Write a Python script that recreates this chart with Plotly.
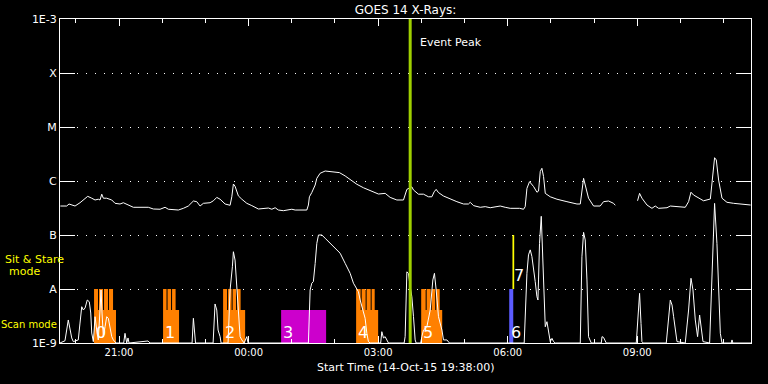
import pandas as pd
import plotly.graph_objects as go

START = pd.Timestamp("2015-10-14 19:38:00")
SPAN_MIN = 960  # 16 hours shown

# ---- GOES long channel (1-8 A): minutes after start, flux (W/m^2); None = data gap
long_min = [0.5, 9.3, 12.5, 20.9, 27.8, 34.8, 38.5, 44.1, 48.7, 53.2,
            55.6, 58.0, 60.2, 64.9, 71.9, 76.5, 83.4, 88.0, 94.9, 101.9,
            122.7, 129.7, 139.0, 146.0, 150.5, 164.4, 171.4, 178.3, 185.3, 190.0,
            194.6, 199.2, 208.5, 213.1, 217.8, 222.4, 229.4, 236.3, 238.7, 240.9,
            243.2, 247.8, 252.6, 259.5, 266.5, 275.6, 289.5, 294.3, 298.9, 303.4,
            310.4, 322.1, 326.7, 342.9, 345.1, 346.5, 349.8, 354.5, 356.8, 361.4,
            368.4, 377.7, 388.2, 396.2, 405.5, 412.4, 421.6, 430.9, 442.4, 451.8,
            458.7, 468.0, 477.2, 481.9, 485.5, 488.8, 491.1, 498.0, 505.0, 511.9,
            516.6, 519.8, 522.6, 525.8, 532.8, 542.1, 551.4, 560.6, 567.5, 569.9,
            574.5, 583.8, 590.8, 597.7, 604.6, 611.6, 618.5, 625.5, 638.4, 644.0,
            646.3, 648.7, 652.3, 657.9, 662.6, 664.8, 667.2, 669.5, 671.8, 674.2,
            681.1, 690.4, 704.3, 718.2, 722.8, 725.1, 727.4, 729.7, 734.3, 741.3,
            750.5, 755.1, 762.1, 769.0, 771.4, 786.0, 802.4, 805.2, 808.5, 815.5,
            822.4, 827.0, 831.6, 843.3, 847.9, 854.9, 868.7, 873.3, 876.6, 880.2,
            887.2, 894.1, 903.5, 906.6, 909.4, 911.8, 915.0, 919.7, 926.6, 935.8,
            959.5]
long_flux = [3.44e-7, 3.44e-7, 3.75e-7, 3.44e-7, 3.96e-7, 4.8e-7, 5.2e-7, 4.8e-7, 4.45e-7, 4.6e-7,
             4.45e-7, 5.7e-7, 4.8e-7, 4.8e-7, 4.45e-7, 3.86e-7, 3.75e-7, 3.96e-7, 3.59e-7, 3.26e-7,
             3.26e-7, 3.03e-7, 3.0e-7, 3.26e-7, 3.0e-7, 2.9e-7, 3.12e-7, 3.44e-7, 4.26e-7, 4.14e-7,
             3.44e-7, 3.86e-7, 3.96e-7, 4.3e-7, 4.97e-7, 4.6e-7, 3.75e-7, 3.55e-7, 5.1e-7, 8.8e-7,
             8.0e-7, 5.3e-7, 4.6e-7, 3.86e-7, 3.5e-7, 3.03e-7, 3.16e-7, 3.0e-7, 3.2e-7, 2.9e-7,
             2.82e-7, 3.0e-7, 2.9e-7, 2.9e-7, 3.59e-7, 5.1e-7, 6.1e-7, 8.43e-7, 1.12e-6, 1.39e-6,
             1.53e-6, 1.5e-6, 1.43e-6, 1.24e-6, 1.01e-6, 8.7e-7, 7.5e-7, 6.6e-7, 5.74e-7, 5.9e-7,
             4.97e-7, 4.45e-7, 4.45e-7, 7.0e-7, 7.3e-7, 7.8e-7, 6.81e-7, 5.7e-7, 5.7e-7, 5.1e-7,
             5.1e-7, 6.3e-7, 7.0e-7, 6.1e-7, 5.27e-7, 4.6e-7, 4.14e-7, 3.75e-7, 3.75e-7, 4.03e-7,
             3.5e-7, 3.26e-7, 3.35e-7, 3.2e-7, 3.35e-7, 3.44e-7, 3.26e-7, 3.12e-7, 3.12e-7, 3.0e-7,
             3.35e-7, 7.3e-7, 9.7e-7, 7.9e-7, 6.2e-7, 6.5e-7, 1.5e-6, 1.72e-6, 1.21e-6, 5.9e-7,
             5.1e-7, 4.6e-7, 4.14e-7, 3.75e-7, 3.75e-7, 7.3e-7, 1.12e-6, 8.43e-7, 4.8e-7, 3.44e-7,
             3.44e-7, 4.14e-7, 4.26e-7, 3.86e-7, 3.55e-7, None, 4.3e-7, 5.9e-7, 4.8e-7, 3.59e-7,
             3.12e-7, 3.44e-7, 3.12e-7, 3.2e-7, 3.44e-7, 3.35e-7, 3.26e-7, 4.14e-7, 6.2e-7, 5.5e-7,
             4.8e-7, 4.3e-7, 4.64e-7, 1.04e-6, 2.7e-6, 2.45e-6, 1.04e-6, 4.8e-7, 4.03e-7, 3.86e-7,
             3.59e-7]

# ---- GOES short channel (0.5-4 A)
short_min = [0.0, 4.2, 6.9, 11.5, 13.9, 16.3, 18.5, 25.4, 27.8, 30.2,
             32.4, 34.8, 37.9, 40.7, 42.7, 44.1, 46.3, 48.7, 51.0, 53.2,
             55.6, 57.0, 58.4, 60.2, 62.6, 64.9, 67.1, 69.5, 71.9, 74.1,
             77.8, 88.5, 90.3, 92.7, 94.5, 95.9, 122.3, 125.1, 183.5, 185.3,
             186.9, 188.3, 212.7, 215.4, 217.8, 219.6, 222.4, 223.8, 233.5, 236.3,
             239.5, 240.9, 243.2, 245.6, 247.8, 250.2, 252.6, 255.8, 259.5, 261.3,
             345.1, 346.5, 347.5, 349.8, 352.0, 354.5, 356.8, 359.1, 363.8, 368.4,
             375.3, 384.6, 389.2, 396.2, 403.1, 407.7, 411.4, 414.6, 417.0, 419.3,
             423.9, 426.3, 428.5, 430.9, 445.5, 447.1, 449.4, 451.7, 454.1, 456.3,
             478.1, 479.5, 481.9, 484.1, 486.5, 488.8, 491.1, 493.4, 494.8, 501.1,
             502.7, 505.0, 509.7, 514.3, 518.0, 520.2, 522.6, 525.8, 530.6, 532.8,
             537.5, 541.1, 644.9, 646.3, 648.7, 650.9, 653.3, 655.6, 657.9, 660.2,
             662.6, 664.0, 664.8, 666.2, 668.6, 670.9, 672.8, 674.2, 676.5, 678.7,
             681.1, 683.5, 685.7, 688.0, 722.8, 725.1, 727.4, 729.7, 732.1, 734.3,
             736.7, 738.1, 752.0, 753.0, 755.1, 757.5, 758.9, 800.6, 803.8, 805.2,
             807.2, 808.5, 810.3, 842.3, 847.9, 850.3, 852.5, 854.9, 857.2, 868.7,
             873.3, 876.6, 879.4, 882.6, 885.8, 888.6, 891.0, 893.3, 902.5, 904.5,
             906.6, 909.4, 912.7, 915.0, 917.4, 919.7, 932.6, 933.6, 934.7, 960.0]
short_flux = [1e-9, 1.04e-9, 1.1e-9, 2.67e-9, 1.9e-9, 1.24e-9, 1.06e-9, 1.14e-9, 2.34e-9, 4.7e-9,
              4.08e-9, 4.45e-9, 6.25e-9, 5.8e-9, 3.59e-9, 1.53e-9, 1.06e-9, 3.07e-9, 1.74e-9, 1.14e-9,
              4.08e-9, 9.6e-9, 3.59e-9, 1.31e-9, 2.0e-9, 3.07e-9, 2.87e-9, 2.0e-9, 1.31e-9, 1.14e-9,
              1e-9, 1e-9, 1.51e-9, 1e-9, 1.24e-9, 1e-9, 1.09e-9, 1e-9, 1e-9, 2.87e-9,
              1.74e-9, 1e-9, 1e-9, 5.28e-9, 4.08e-9, 1.74e-9, 1.31e-9, 1e-9, 1e-9, 9.6e-9,
              2.58e-8, 4.9e-8, 3.43e-8, 9.6e-9, 4.08e-9, 1.31e-9, 1.14e-9, 1e-9, 1.31e-9, 1e-9,
              1e-9, 3.59e-9, 9.6e-9, 1.28e-8, 1.37e-8, 2.98e-8, 7.0e-8, 1.0e-7, 1.0e-7, 8.7e-8,
              7.0e-8, 5.3e-8, 4.6e-8, 2.98e-8, 1.95e-8, 1.28e-8, 1.03e-8, 8.9e-9, 6.25e-9, 4.7e-9,
              2.87e-9, 1.51e-9, 1.06e-9, 1e-9, 1e-9, 1.62e-9, 1.24e-9, 1.31e-9, 1.14e-9, 1e-9,
              1e-9, 1.31e-9, 2.08e-8, 1.95e-8, 1.11e-8, 7.2e-9, 3.07e-9, 1.14e-9, 1e-9, 1e-9,
              1.31e-9, 1.74e-9, 2.0e-9, 4.08e-9, 1.47e-8, 1.95e-8, 9.6e-9, 3.07e-9, 1.74e-9, 1.14e-9,
              1.14e-9, 1e-9, 1e-9, 2.87e-9, 1.95e-8, 4.28e-8, 5.3e-8, 4.0e-8, 2.58e-8, 1.37e-8,
              7.2e-9, 6.25e-9, 1.47e-8, 7.0e-8, 2.22e-7, 2.98e-8, 7.2e-9, 2.0e-9, 2.48e-9, 1.74e-9,
              1.06e-9, 1.22e-9, 1.06e-9, 1e-9, 1e-9, 3.95e-8, 1.12e-7, 8.1e-8, 1.47e-8, 1.31e-9,
              1.06e-9, 1e-9, 1e-9, 1.31e-9, 1.27e-9, 1.06e-9, 1e-9, 1e-9, 6.25e-9, 8.3e-9,
              2.3e-9, 1.06e-9, 1e-9, 1e-9, 6.25e-9, 5.05e-9, 3.07e-9, 1.74e-9, 1.06e-9, 1e-9,
              4.08e-9, 1.58e-8, 9.6e-9, 2.67e-9, 1.31e-9, 3.3e-9, 1.74e-9, 1.06e-9, 1e-9, 5.4e-9,
              5.3e-8, 3.85e-7, 7.0e-8, 1.47e-8, 1.51e-9, 1e-9, 1e-9, 1.14e-9, 1e-9, 1e-9]

# ---- IRIS observation blocks (minutes after start)
scan_labels = ["0", "1", "2", "4", "5"]
scan_box_start = [47.3, 143.2, 226.6, 411.4, 501.8]
scan_box_end = [77.8, 165.4, 257.2, 442.0, 531.0]
scan_raster_start = [[47.3, 54.2, 61.2, 68.1],
                     [143.2, 149.4, 155.7],
                     [226.6, 233.5, 239.8, 246.0],
                     [411.4, 419.1, 426.0, 433.0],
                     [501.8, 509.4, 516.4, 522.6]]
scan_raster_end = [[52.8, 59.8, 66.7, 73.7],
                   [148.0, 154.3, 160.6],
                   [232.1, 238.4, 244.6, 250.9],
                   [417.7, 424.6, 431.6, 437.2],
                   [508.0, 515.0, 521.3, 527.5]]
stare_label = "3"
stare_start, stare_end = 307.2, 369.7
obs6_start, obs6_end = 624.1, 629.7
obs7_start, obs7_end = 628.6, 631.0
event_peak_min = 486.5

FLOOR, BOX_LEVEL, RASTER_LEVEL, OBS7_TOP = 1e-9, 4.1e-9, 1e-8, 1e-7

ytick_vals = [1e-9, 1e-8, 1e-7, 1e-6, 1e-5, 1e-4, 1e-3]
ytick_text = ["1E-9", "A", "B", "C", "M", "X", "1E-3"]

ORANGE = "#ff8000"
MAGENTA = "#cc00cc"
BLUE = "#5c5cff"
YELLOW = "#ffff00"
GREEN = "#9fd000"
FONT = "DejaVu Sans"


def tm(mins):
    return [None if m is None else START + pd.Timedelta(minutes=m) for m in mins]


def rect_path(starts, ends, lo, his):
    xs, ys = [], []
    for s, e, hi in zip(starts, ends, his):
        xs += [s, s, e, e, s, None]
        ys += [lo, hi, hi, lo, lo, None]
    return tm(xs), ys


fig = go.Figure()

# scan-mode blocks
for i in range(len(scan_labels)):
    starts = [scan_box_start[i]] + scan_raster_start[i]
    ends = [scan_box_end[i]] + scan_raster_end[i]
    his = [BOX_LEVEL] + [RASTER_LEVEL] * len(scan_raster_start[i])
    x, y = rect_path(starts, ends, FLOOR, his)
    fig.add_trace(go.Scatter(x=x, y=y, mode="lines", fill="toself", fillcolor=ORANGE,
                             line=dict(width=0, color=ORANGE), hoverinfo="skip"))

# sit & stare block 3
x, y = rect_path([stare_start], [stare_end], FLOOR, [BOX_LEVEL])
fig.add_trace(go.Scatter(x=x, y=y, mode="lines", fill="toself", fillcolor=MAGENTA,
                         line=dict(width=0, color=MAGENTA), hoverinfo="skip"))
# observation 6 and 7
x, y = rect_path([obs6_start], [obs6_end], FLOOR, [RASTER_LEVEL])
fig.add_trace(go.Scatter(x=x, y=y, mode="lines", fill="toself", fillcolor=BLUE,
                         line=dict(width=0, color=BLUE), hoverinfo="skip"))
x, y = rect_path([obs7_start], [obs7_end], RASTER_LEVEL, [OBS7_TOP])
fig.add_trace(go.Scatter(x=x, y=y, mode="lines", fill="toself", fillcolor=YELLOW,
                         line=dict(width=0, color=YELLOW), hoverinfo="skip"))

# GOES curves
fig.add_trace(go.Scatter(x=tm(long_min), y=long_flux, mode="lines",
                         line=dict(color="white", width=1), connectgaps=False))
fig.add_trace(go.Scatter(x=tm(short_min), y=short_flux, mode="lines",
                         line=dict(color="white", width=1)))

peak_t = START + pd.Timedelta(minutes=event_peak_min)
fig.add_shape(type="line", x0=peak_t, x1=peak_t, xref="x", yref="paper", y0=0, y1=1,
              line=dict(color=GREEN, width=3), layer="above")

annots = []
for lab, s in zip(scan_labels + [stare_label, "6"],
                  scan_box_start + [stare_start, obs6_start]):
    annots.append(dict(x=START + pd.Timedelta(minutes=s), y=-9, xref="x", yref="y",
                       text=lab, showarrow=False, xanchor="left", yanchor="bottom",
                       xshift=0, yshift=-1, font=dict(family=FONT, size=16, color="white")))
annots.append(dict(x=START + pd.Timedelta(minutes=obs7_start), y=-8, xref="x", yref="y",
                   text="7", showarrow=False, xanchor="left", yanchor="bottom",
                   xshift=0, yshift=2, font=dict(family=FONT, size=16, color="white")))
annots.append(dict(x=peak_t, y=0.926, xref="x", yref="paper", text="Event Peak",
                   showarrow=False, xanchor="left", yanchor="middle", xshift=8,
                   font=dict(family=FONT, size=11, color="white")))
annots.append(dict(x=(34.5 - 60) / 691, y=(343 - 259) / 324, xref="paper", yref="paper",
                   text="Sit & Stare", showarrow=False, xanchor="center", yanchor="middle",
                   borderpad=0, font=dict(family=FONT, size=11, color=YELLOW)))
annots.append(dict(x=(24 - 60) / 691, y=(343 - 271.5) / 324, xref="paper", yref="paper",
                   text="mode", showarrow=False, xanchor="center", yanchor="middle",
                   borderpad=0, font=dict(family=FONT, size=11, color=YELLOW)))
annots.append(dict(x=(29 - 60) / 691, y=(343 - 324) / 324, xref="paper", yref="paper",
                   text="Scan mode", showarrow=False, xanchor="center", yanchor="middle",
                   borderpad=0, font=dict(family=FONT, size=10, color=YELLOW)))
annots.append(dict(x=0.5, y=-(368 - 343) / 324, xref="paper", yref="paper",
                   text="Start Time (14-Oct-15 19:38:00)", showarrow=False,
                   xanchor="center", yanchor="middle",
                   font=dict(family=FONT, size=11, color="white")))

fig.update_layout(
    width=768, height=384,
    margin=dict(l=60, r=17, t=19, b=41),
    paper_bgcolor="black", plot_bgcolor="black",
    showlegend=False,
    title=dict(text="GOES 14 X-Rays:", x=0.5, xref="paper", y=1 - 10 / 384,
               yref="container", xanchor="center", yanchor="middle",
               font=dict(family=FONT, size=12, color="white")),
    annotations=annots,
    xaxis=dict(
        type="date",
        range=[START, START + pd.Timedelta(minutes=SPAN_MIN)],
        tick0="2015-10-14 21:00:00", dtick=3 * 3600 * 1000, tickformat="%H:%M",
        ticks="inside", ticklen=7, tickcolor="white", tickwidth=1,
        showline=True, linecolor="white", linewidth=1, mirror="ticks",
        showgrid=False, zeroline=False,
        tickfont=dict(family=FONT, size=10, color="white"),
        minor=dict(ticks="inside", ticklen=4, tickcolor="white", dtick=3600 * 1000,
                   tick0="2015-10-14 21:00:00", showgrid=False),
    ),
    yaxis=dict(
        type="log", range=[-9, -3],
        tickvals=ytick_vals, ticktext=ytick_text,
        ticks="inside", ticklen=15, tickcolor="white", tickwidth=1,
        showline=True, linecolor="white", linewidth=1, mirror="ticks",
        showgrid=True, gridcolor="white", gridwidth=1, griddash="1px,7.7px",
        zeroline=False,
        tickfont=dict(family=FONT, size=11, color="white"),
    ),
)

fig.write_html(
    "out.html",
    config={"staticPlot": True, "displayModeBar": False},
    post_script="document.body.style.margin='0';document.body.style.background='black';",
)
